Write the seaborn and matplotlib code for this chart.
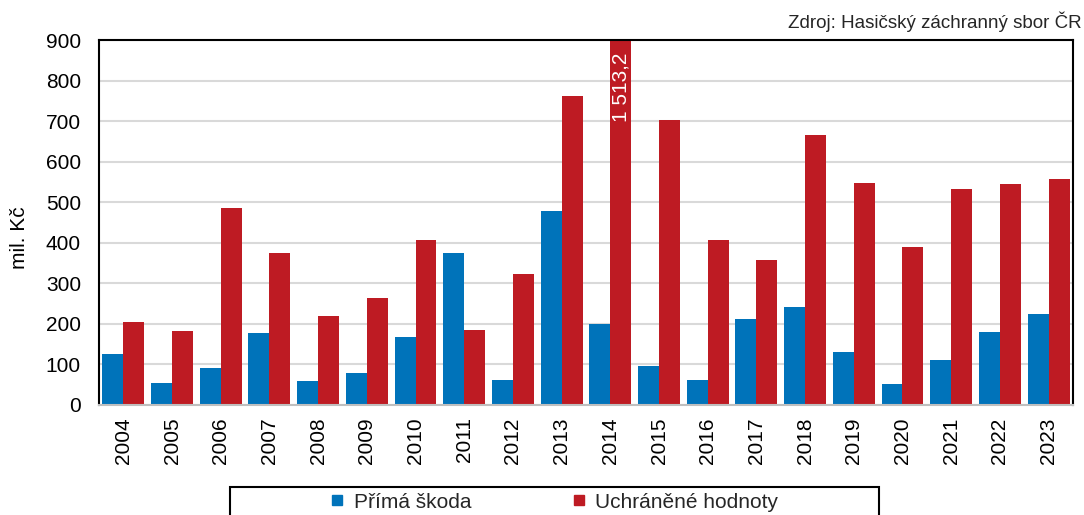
import matplotlib
matplotlib.use("Agg")
import matplotlib.pyplot as plt
import seaborn as sns
import pandas as pd
from matplotlib.lines import Line2D
from matplotlib.patches import Rectangle

# data (mil. Kč)
roky = [str(r) for r in range(2004, 2024)]
prima_skoda = [126, 55, 92, 177, 58, 80, 167, 376, 62, 479,
               200, 95, 62, 212, 241, 131, 53, 112, 179, 225]
uchranene = [205, 182, 486, 374, 219, 265, 407, 184, 323, 761,
             1513.2, 702, 408, 357, 666, 548, 389, 532, 545, 558]
serie = ["Přímá škoda", "Uchráněné hodnoty"]
barvy = ["#0073BA", "#BE1B23"]

df = pd.DataFrame({
    "rok": roky * 2,
    "hodnota": prima_skoda + uchranene,
    "typ": [serie[0]] * len(roky) + [serie[1]] * len(roky),
})

sns.set_theme(style="white")
plt.rcParams["font.family"] = ["Liberation Sans", "DejaVu Sans"]
fs = 15

fig = plt.figure(figsize=(10.84, 5.15), dpi=100)
ax = fig.add_axes([0.0913, 0.2136, 0.8985, 0.7087])

sns.barplot(data=df, x="rok", y="hodnota", hue="typ", palette=barvy,
            width=0.86, gap=0, saturation=1, legend=False, ax=ax,
            edgecolor="none")

ax.set_ylim(0, 900)
ax.set_yticks(range(0, 901, 100))
ax.yaxis.grid(True, color="#D9D9D9", lw=1.5)
ax.set_axisbelow(True)
ax.set_xlabel("")
ax.set_ylabel("mil. Kč", fontsize=fs, color="black")
ax.yaxis.set_label_coords(-0.072, 0.458)
ax.tick_params(axis="x", labelrotation=90, labelsize=fs, length=0, pad=9, colors="black")
ax.tick_params(axis="y", labelsize=fs, length=0, pad=13, colors="black")

for s in ["left", "top", "right"]:
    ax.spines[s].set_color("black")
    ax.spines[s].set_linewidth(1.5)
ax.spines["bottom"].set_color("#BFBFBF")
ax.spines["bottom"].set_linewidth(1.5)

# popisek u uříznutého sloupce 2014
nejvyssi = max(ax.patches, key=lambda p: p.get_height())
ax.text(nejvyssi.get_x() + nejvyssi.get_width() / 2, 870,
        "1 513,2", rotation=90, ha="center", va="top",
        color="white", fontsize=fs)

fig.text(0.998, 1 - 22 / 515, "Zdroj: Hasičský záchranný sbor ČR",
         ha="right", va="center", fontsize=13.5)

handles = [Line2D([], [], marker="s", ls="", color=c, markersize=6.5) for c in barvy]
fig.legend(handles, serie, loc="center left", bbox_to_anchor=(0.3044, 0.025),
           ncol=2, frameon=False, fontsize=fs, handlelength=0.7,
           handletextpad=0.45, columnspacing=4.8, borderpad=0, borderaxespad=0)
fig.add_artist(Rectangle((0.2122, -0.05), 0.5987, 0.1044, transform=fig.transFigure,
                         fill=False, ec="black", lw=1.5, clip_on=False))

plt.savefig("out.png", dpi=100)
plt.close()
